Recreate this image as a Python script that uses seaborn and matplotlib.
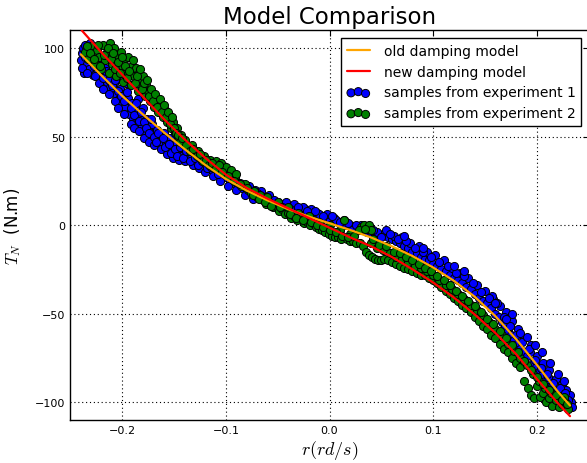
import numpy as np
import matplotlib
matplotlib.use("Agg")
import matplotlib.pyplot as plt
import seaborn as sns

# --- model curves ---
r_old = [-0.240, -0.22, -0.20, -0.18, -0.16, -0.14, -0.12, -0.10, -0.08, -0.06, -0.04, -0.02,
         0.00, 0.02, 0.04, 0.06, 0.08, 0.10, 0.12, 0.14, 0.16, 0.18, 0.20, 0.22, 0.232]
t_old = [96.5, 84.5, 73, 62.5, 52.5, 43, 34, 26, 19.5, 14, 9, 4.8,
         1, -2.8, -7, -12, -17.5, -24, -31.5, -40.5, -51.5, -64.5, -79, -94, -102]

r_new = [-0.239, -0.22, -0.20, -0.18, -0.16, -0.14, -0.12, -0.10, -0.08, -0.06, -0.04, -0.02,
         0.00, 0.02, 0.04, 0.06, 0.08, 0.10, 0.12, 0.14, 0.16, 0.18, 0.20, 0.22, 0.232]
t_new = [110, 97.5, 85, 72.5, 60, 48.5, 38, 28.5, 21, 15, 9.5, 4,
         -1.5, -7, -12, -18, -25, -32.5, -41, -50.5, -61, -73, -87, -100.5, -108]

# --- measured samples (r, T_N) ---
exp1_samples = [
    (-0.240, 93), (-0.239, 97), (-0.238, 100), (-0.236, 102), (-0.235, 96), (-0.234, 91), (-0.233, 99),
    (-0.231, 103), (-0.230, 94), (-0.229, 89), (-0.228, 85), (-0.227, 98), (-0.226, 92), (-0.224, 88),
    (-0.223, 95), (-0.221, 86), (-0.220, 91), (-0.218, 84), (-0.217, 89), (-0.215, 81), (-0.214, 86),
    (-0.212, 78), (-0.211, 83), (-0.209, 76), (-0.208, 80), (-0.206, 74), (-0.205, 84), (-0.203, 71),
    (-0.202, 77), (-0.200, 69), (-0.199, 74), (-0.197, 67), (-0.196, 80), (-0.194, 72), (-0.193, 63),
    (-0.191, 69), (-0.190, 60), (-0.188, 66), (-0.186, 58), (-0.185, 71), (-0.183, 62), (-0.181, 56),
    (-0.180, 66), (-0.178, 52), (-0.176, 60), (-0.175, 55), (-0.173, 49), (-0.171, 57), (-0.170, 52),
    (-0.168, 48), (-0.166, 54), (-0.164, 50), (-0.162, 46), (-0.160, 52), (-0.158, 47), (-0.156, 43),
    (-0.154, 49), (-0.152, 44), (-0.150, 41), (-0.148, 46), (-0.146, 42), (-0.143, 39), (-0.140, 43),
    (-0.137, 40), (-0.134, 38), (-0.131, 41), (-0.128, 37), (-0.125, 35), (-0.122, 37), (-0.119, 33),
    (-0.116, 35), (-0.113, 31), (-0.110, 30), (-0.107, 32), (-0.104, 28), (-0.100, 27), (-0.096, 25),
    (-0.092, 24), (-0.088, 22), (-0.084, 21), (-0.080, 20), (-0.076, 19), (-0.072, 20), (-0.068, 17),
    (-0.064, 15), (-0.060, 14), (-0.056, 15), (-0.052, 12), (-0.048, 11), (-0.044, 12), (-0.040, 10),
    (-0.036, 11), (-0.032, 9), (-0.028, 8), (-0.024, 9), (-0.020, 7), (-0.016, 6), (-0.012, 7),
    (-0.008, 5), (-0.004, 4), (0.000, 3), (0.004, 4), (0.008, 2), (0.012, 1), (0.016, 0), (0.020, 0),
    (0.024, -1), (0.028, -2), (0.032, -3), (0.036, -4), (0.040, -4), (0.044, -5), (0.048, -6),
    (0.052, -5), (0.056, -7), (0.060, -8), (0.064, -9), (0.068, -10), (0.072, -12), (0.076, -13),
    (0.080, -15), (0.084, -16), (0.088, -18), (0.092, -19), (0.096, -20), (0.100, -22), (0.104, -23),
    (0.108, -25), (0.112, -26), (0.116, -28), (0.120, -30), (0.124, -31), (0.128, -33), (0.132, -35),
    (0.136, -36), (0.140, -39), (0.144, -41), (0.148, -43), (0.152, -44), (0.156, -47), (0.158, -42),
    (0.160, -50), (0.163, -52), (0.166, -55), (0.169, -57), (0.172, -60), (0.175, -62), (0.178, -65),
    (0.181, -67), (0.184, -70), (0.187, -72), (0.190, -74), (0.193, -72), (0.196, -78), (0.199, -80),
    (0.202, -83), (0.205, -85), (0.208, -88), (0.211, -86), (0.214, -91), (0.217, -93), (0.220, -94),
    (0.223, -97), (0.226, -99), (0.229, -97), (0.231, -102), (0.233, -100),
    (-0.237, 86), (-0.232, 88), (-0.226, 84), (-0.222, 80), (-0.219, 77), (-0.213, 74), (-0.207, 70),
    (-0.204, 66), (-0.198, 63), (-0.192, 57), (-0.189, 55), (-0.184, 53), (-0.179, 49), (-0.174, 47),
    (-0.169, 45), (-0.163, 43), (-0.157, 40), (-0.151, 38), (-0.145, 37), (-0.139, 36), (-0.132, 34),
    (-0.126, 32), (-0.120, 30), (-0.112, 28), (-0.106, 25), (-0.098, 22), (-0.090, 20), (-0.082, 17),
    (-0.074, 15), (-0.066, 19), (-0.058, 17), (-0.050, 13), (-0.042, 13), (-0.034, 12), (-0.026, 10),
    (-0.018, 9), (-0.010, 6), (-0.002, 6), (0.006, 3), (0.014, 3), (0.022, -3), (0.030, 0), (0.038, -2),
    (0.046, -4), (0.054, -3), (0.062, -6), (0.070, -7), (0.078, -10), (0.086, -12), (0.094, -15),
    (0.102, -17), (0.110, -20), (0.118, -24), (0.126, -27), (0.134, -30), (0.142, -34), (0.150, -37),
    (0.157, -40), (0.164, -46), (0.170, -49), (0.176, -54), (0.182, -59), (0.188, -64), (0.194, -68),
    (0.200, -74), (0.206, -78), (0.212, -82), (0.218, -87), (0.224, -90), (0.228, -93), (0.232, -96),
    (-0.239, 89), (-0.236, 95), (-0.234, 86), (-0.230, 98), (-0.227, 90), (-0.225, 96), (-0.222, 92),
    (-0.219, 83), (-0.216, 87), (-0.213, 82), (-0.210, 79), (-0.207, 82), (-0.204, 76), (-0.201, 73),
    (-0.198, 70), (-0.195, 75), (-0.192, 66), (-0.189, 62), (-0.187, 69), (-0.184, 59), (-0.182, 64),
    (-0.179, 58), (-0.177, 55), (-0.174, 52), (-0.172, 60), (-0.169, 50), (-0.167, 47), (-0.165, 52),
    (-0.161, 49), (-0.159, 44), (-0.155, 46), (-0.153, 41), (-0.149, 43), (-0.147, 39), (-0.144, 44),
    (-0.141, 38), (-0.138, 42), (-0.135, 36), (-0.130, 38), (-0.127, 34), (-0.123, 36), (-0.118, 32),
    (-0.114, 33), (-0.108, 29), (-0.102, 29), (-0.094, 26), (-0.086, 24), (-0.078, 22), (-0.070, 18),
    (-0.062, 16), (-0.054, 14), (-0.046, 10), (-0.038, 9), (-0.030, 10), (-0.022, 8), (-0.014, 8),
    (-0.006, 5), (0.002, 5), (0.010, 2), (0.018, 1), (0.026, 0), (0.034, -1), (0.042, -3), (0.050, -7),
    (0.058, -5), (0.066, -8), (0.074, -9), (0.082, -13), (0.090, -15), (0.098, -18), (0.106, -21),
    (0.114, -23), (0.122, -27), (0.130, -29), (0.138, -33), (0.146, -38), (0.154, -41), (0.162, -44),
    (0.168, -52), (0.174, -57), (0.180, -62), (0.186, -66), (0.192, -70), (0.198, -76), (0.204, -81),
    (0.210, -84), (0.216, -89), (0.222, -92), (0.227, -95), (0.230, -99), (0.234, -103),
    (0.160, -44), (0.176, -50), (0.190, -63), (0.198, -68), (0.205, -72), (0.213, -78), (0.220, -84),
    (0.226, -88), (0.170, -53), (0.184, -61), (0.120, -23), (0.130, -26), (0.090, -13), (0.072, -6),
]

exp2_samples = [
    (-0.236, 98), (-0.233, 94), (-0.230, 101), (-0.228, 97), (-0.226, 91), (-0.224, 99), (-0.222, 95),
    (-0.220, 88), (-0.219, 102), (-0.217, 93), (-0.215, 98), (-0.213, 86), (-0.212, 103), (-0.210, 91),
    (-0.208, 100), (-0.206, 84), (-0.205, 96), (-0.203, 89), (-0.201, 98), (-0.199, 81), (-0.198, 93),
    (-0.196, 86), (-0.194, 95), (-0.192, 79), (-0.191, 90), (-0.189, 84), (-0.187, 89), (-0.185, 76),
    (-0.184, 86), (-0.182, 81), (-0.180, 84), (-0.178, 73), (-0.177, 79), (-0.175, 76), (-0.173, 70),
    (-0.171, 74), (-0.169, 67), (-0.167, 71), (-0.165, 64), (-0.163, 68), (-0.161, 61), (-0.159, 65),
    (-0.157, 58), (-0.155, 62), (-0.153, 55), (-0.151, 58), (-0.149, 52), (-0.147, 55), (-0.145, 49),
    (-0.143, 51), (-0.141, 46), (-0.139, 48), (-0.136, 44), (-0.133, 45), (-0.130, 41), (-0.127, 42),
    (-0.124, 38), (-0.121, 39), (-0.118, 36), (-0.115, 37), (-0.112, 33), (-0.109, 35), (-0.106, 31),
    (-0.103, 32), (-0.100, 29), (-0.097, 30), (-0.094, 26), (-0.091, 27), (-0.088, 24), (-0.085, 22),
    (-0.082, 23), (-0.079, 20), (-0.076, 18), (-0.073, 19), (-0.070, 16), (-0.067, 17), (-0.064, 14),
    (-0.061, 12), (-0.058, 13), (-0.055, 10), (-0.052, 11), (-0.049, 8), (-0.046, 9), (-0.043, 6),
    (-0.040, 7), (-0.037, 4), (-0.034, 5), (-0.031, 3), (-0.028, 4), (-0.025, 1), (-0.022, 2),
    (-0.019, 0), (-0.016, 1), (-0.013, -1), (-0.010, -2), (-0.007, -3), (-0.004, -4), (-0.001, -5),
    (0.002, -6), (0.005, -7), (0.008, -7), (0.011, -8), (0.014, 3), (0.017, -8), (0.020, -9),
    (0.023, -9), (0.026, -10), (0.029, -10), (0.030, -1), (0.033, 0), (0.036, -2), (0.038, 0),
    (0.040, -3), (0.032, -12), (0.035, -15), (0.038, -17), (0.041, -18), (0.044, -19), (0.047, -20),
    (0.050, -20), (0.053, -19), (0.056, -20), (0.060, -21), (0.064, -22), (0.068, -23), (0.072, -24),
    (0.076, -25), (0.080, -26), (0.084, -27), (0.088, -28), (0.092, -28), (0.096, -30), (0.100, -31),
    (0.104, -33), (0.108, -35), (0.112, -37), (0.116, -39), (0.120, -41), (0.124, -43), (0.128, -45),
    (0.132, -47), (0.136, -49), (0.140, -52), (0.144, -54), (0.148, -57), (0.152, -59), (0.156, -62),
    (0.160, -64), (0.164, -67), (0.168, -70), (0.172, -72), (0.176, -75), (0.180, -78), (0.184, -80),
    (0.188, -88), (0.191, -92), (0.194, -96), (0.197, -98), (0.200, -91), (0.203, -97), (0.206, -95),
    (0.209, -100), (0.212, -98), (0.215, -102), (0.218, -99), (0.221, -103), (0.224, -101),
    (0.227, -100), (0.230, -104),
    (0.040, -10), (0.046, -13), (0.052, -14), (0.058, -16), (0.064, -18), (0.070, -19), (0.076, -21),
    (0.082, -23), (0.088, -24), (0.094, -26), (0.100, -28), (0.106, -31), (0.112, -34), (0.118, -36),
    (0.124, -39), (0.130, -42), (0.136, -45), (0.142, -48), (0.148, -51), (0.154, -55), (0.160, -59),
    (0.166, -62), (0.172, -67), (0.178, -71), (0.184, -75), (0.190, -79), (0.196, -84), (0.202, -88),
    (0.208, -92), (0.214, -95), (0.220, -98), (0.226, -97),
    (-0.060, 16), (-0.050, 13), (-0.040, 10), (-0.030, 7), (-0.020, 5), (-0.010, 2), (0.000, 0),
    (0.010, -3), (0.020, -5), (-0.110, 36), (-0.105, 35), (-0.100, 33), (-0.095, 31), (-0.090, 29),
    (-0.234, 101), (-0.231, 97), (-0.227, 94), (-0.223, 102), (-0.221, 90), (-0.218, 96), (-0.214, 100),
    (-0.211, 94), (-0.209, 97), (-0.207, 88), (-0.204, 92), (-0.202, 86), (-0.200, 95), (-0.197, 90),
    (-0.195, 83), (-0.193, 87), (-0.190, 93), (-0.188, 80), (-0.186, 84), (-0.183, 88), (-0.181, 77),
    (-0.179, 80), (-0.176, 82), (-0.174, 73), (-0.172, 77), (-0.170, 70), (-0.168, 74), (-0.166, 67),
    (-0.164, 71), (-0.162, 64), (-0.160, 68), (-0.158, 61), (-0.156, 64), (-0.154, 57), (-0.152, 61),
    (-0.150, 55), (-0.148, 52), (-0.146, 51), (-0.144, 47), (-0.142, 49), (-0.138, 45), (-0.135, 42),
    (-0.132, 43), (-0.128, 39), (-0.125, 40), (-0.122, 36), (-0.119, 37), (-0.116, 34), (-0.113, 35),
    (-0.110, 32), (-0.107, 34), (-0.104, 30), (-0.098, 28), (-0.092, 25), (-0.086, 23), (-0.080, 21),
    (-0.074, 17), (-0.068, 15), (-0.062, 13), (-0.056, 11), (-0.048, 10), (-0.038, 6), (-0.032, 4),
    (-0.026, 3), (-0.018, 2), (-0.012, 0), (-0.006, -1), (0.000, -3), (0.006, -4), (0.012, -6),
    (0.018, -7), (0.024, -6), (0.028, -3), (0.034, -2), (0.042, -8), (0.048, -11), (0.054, -12),
    (0.062, -15), (0.068, -16), (0.074, -18), (0.080, -20), (0.086, -22), (0.092, -24), (0.098, -26),
    (0.104, -29), (0.110, -31), (0.116, -34), (0.122, -37), (0.128, -40), (0.134, -43), (0.140, -46),
    (0.146, -49), (0.152, -53), (0.158, -56), (0.164, -60), (0.170, -64), (0.176, -68), (0.182, -72),
    (0.188, -77), (0.194, -82), (0.200, -86), (0.206, -90), (0.212, -93), (0.218, -96), (0.224, -99),
    (0.229, -101),
]

exp1_r, exp1_t = np.array(exp1_samples).T
exp2_r, exp2_t = np.array(exp2_samples).T

# --- style ---
sns.set_style("white")
plt.rcParams['font.family'] = ['DejaVu Sans']
plt.rcParams['mathtext.fontset'] = 'cm'
plt.rcParams['text.color'] = 'black'
plt.rcParams['axes.labelcolor'] = 'black'
plt.rcParams['xtick.color'] = 'black'
plt.rcParams['ytick.color'] = 'black'

fig = plt.figure(figsize=(5.87, 4.64), dpi=100)
ax = fig.add_axes([0.1199, 0.0933, 0.883, 0.839])

# lignes d'abord (ordre de la légende), mais au-dessus des points
sns.lineplot(x=r_old, y=t_old, ax=ax, color='orange', lw=1.6, sort=False,
             label='old damping model', zorder=4)
sns.lineplot(x=r_new, y=t_new, ax=ax, color='red', lw=1.6, sort=False,
             label='new damping model', zorder=4)
sns.scatterplot(x=exp1_r, y=exp1_t, ax=ax, color='blue', edgecolor='black', linewidth=0.7,
                s=34, label='samples from experiment 1', zorder=2)
sns.scatterplot(x=exp2_r, y=exp2_t, ax=ax, color='green', edgecolor='black', linewidth=0.7,
                s=34, label='samples from experiment 2', zorder=3)

ax.set_xlim(-0.25, 0.25)
ax.set_ylim(-110, 110)
ax.set_xticks([-0.2, -0.1, 0.0, 0.1, 0.2])
ax.set_yticks([-100, -50, 0, 50, 100])
ax.tick_params(direction='in', top=True, right=True, length=4, width=0.8,
               labelsize=8, pad=4, colors='black')
ax.grid(True, color='black', linestyle=(0, (1, 2.5)), linewidth=0.8)
for sp in ax.spines.values():
    sp.set_color('black')
    sp.set_linewidth(1.0)

ax.set_title('Model Comparison', fontsize=16.5, pad=5, color='black')
ax.set_xlabel(r'$r(rd/s)$', fontsize=13, labelpad=2)
ax.set_ylabel(r'$T_N$  (N.m)', fontsize=12, labelpad=8)

leg = ax.legend(loc='upper right', fontsize=10, scatterpoints=3,
                scatteryoffsets=[0.375, 0.5, 0.3125], fancybox=False, framealpha=1,
                edgecolor='black', handlelength=1.65, handletextpad=1.0, borderaxespad=0.55)
leg.get_frame().set_linewidth(1.0)
for txt in leg.get_texts():
    txt.set_color('black')

fig.savefig('out.png', dpi=100)
